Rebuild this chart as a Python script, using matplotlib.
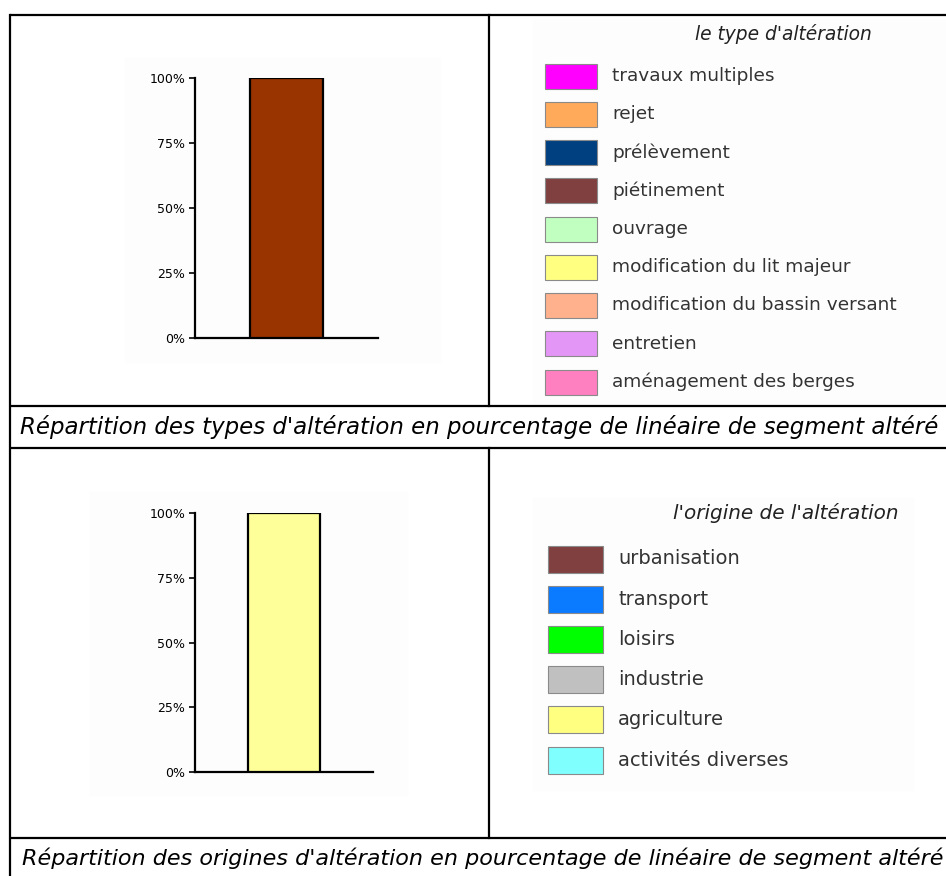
import matplotlib.pyplot as plt
from matplotlib.patches import Rectangle

# data
type_labels = ["travaux multiples", "rejet", "prélèvement", "piétinement", "ouvrage",
               "modification du lit majeur", "modification du bassin versant",
               "entretien", "aménagement des berges"]
type_colors = ["#ff00ff", "#ffaa5a", "#003f80", "#804040", "#c0ffc0",
               "#ffff80", "#ffb08c", "#e496f6", "#ff80c0"]
type_bar_label = "piétinement"
type_bar_value = [100]
type_bar_color = "#993300"

origin_labels = ["urbanisation", "transport", "loisirs", "industrie",
                 "agriculture", "activités diverses"]
origin_colors = ["#804040", "#0a7aff", "#00ff00", "#c0c0c0", "#ffff80", "#80ffff"]
origin_bar_label = "agriculture"
origin_bar_value = [100]
origin_bar_color = "#ffff99"

yticks = [0, 25, 50, 75, 100]
ytick_labels = ["0%", "25%", "50%", "75%", "100%"]

caption_top = "Répartition des types d'altération en pourcentage de linéaire de segment altéré"
caption_bottom = "Répartition des origines d'altération en pourcentage de linéaire de segment altéré"
title_top = "le type d'altération"
title_bottom = "l'origine de l'altération"

W, H = 946, 876
fig = plt.figure(figsize=(W / 100, H / 100), dpi=100)

# background / table layer in pixel coordinates
bg = fig.add_axes([0, 0, 1, 1])
bg.set_xlim(0, W)
bg.set_ylim(H, 0)
bg.axis("off")

# very faint image backgrounds
for x, y, w, h in [(125, 58, 315, 304), (90, 492, 317, 303), (533, 20, 413, 383), (533, 498, 380, 292)]:
    bg.add_patch(Rectangle((x, y), w, h, color="#fdfdfd", zorder=0))

lw = 1.6
for y in [15, 406, 448, 838]:
    bg.plot([10, W], [y, y], color="black", lw=lw, solid_capstyle="butt")
bg.plot([10, 10], [15, H], color="black", lw=lw)
bg.plot([489, 489], [15, 406], color="black", lw=lw)
bg.plot([489, 489], [448, 838], color="black", lw=lw)

cap_font = dict(family="DejaVu Sans", style="italic", color="black")
bg.text(20, 427, caption_top, ha="left", va="center", fontsize=16.5, **cap_font)
bg.text(22, 858, caption_bottom, ha="left", va="center", fontsize=16.0, **cap_font)


def legend_block(title, title_x, title_y, tsize, labels, colors, y0, dy, px, pw, ph, tx, fsize):
    bg.text(title_x, title_y, title, ha="center", va="center", style="italic",
            fontsize=tsize, color="#222222", family="DejaVu Sans")
    for i, (lab, col) in enumerate(zip(labels, colors)):
        yc = y0 + i * dy
        bg.add_patch(Rectangle((px, yc - ph / 2), pw, ph, facecolor=col,
                               edgecolor="#8a8a8a", lw=0.8, zorder=2))
        bg.text(tx, yc, lab, ha="left", va="center", fontsize=fsize,
                color="#333333", family="DejaVu Sans")


legend_block(title_top, 783, 34, 13.4, type_labels, type_colors, 76, 38.25, 545, 52, 25, 612, 13.3)
legend_block(title_bottom, 786, 513, 14.4, origin_labels, origin_colors, 559, 40.2, 548, 55, 27, 618, 14)


def bar_axes(rect, value, color, label):
    ax = fig.add_axes(rect)
    ax.patch.set_alpha(0)
    ax.bar([label], value, width=0.4, color=color, edgecolor="black", linewidth=1.6, zorder=3)
    ax.set_xlim(-0.5, 0.5)
    ax.set_ylim(0, 100)
    ax.set_yticks(yticks)
    ax.set_yticklabels(ytick_labels)
    ax.set_xticks([])
    for s in ["top", "right"]:
        ax.spines[s].set_visible(False)
    for s in ["left", "bottom"]:
        ax.spines[s].set_linewidth(1.6)
    ax.tick_params(axis="y", length=4, width=1.2, pad=3, labelsize=9)
    return ax


bar_axes([195 / W, 1 - 338 / H, 183 / W, 260 / H], type_bar_value, type_bar_color, type_bar_label)
bar_axes([195 / W, 1 - 772 / H, 178 / W, 259 / H], origin_bar_value, origin_bar_color, origin_bar_label)

fig.savefig("out.png", dpi=100)
